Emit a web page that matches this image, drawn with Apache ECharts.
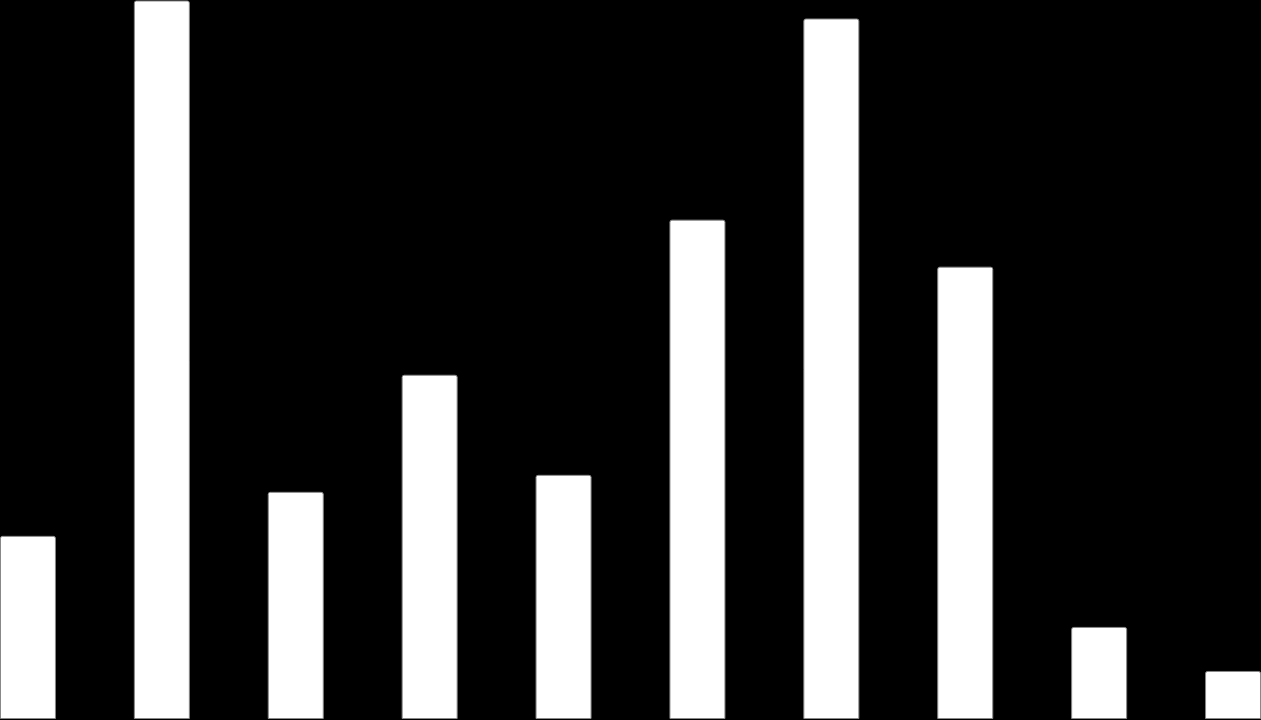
<!DOCTYPE html>
<html>
<head>
<meta charset="utf-8">
<script src="https://cdn.jsdelivr.net/npm/echarts@6/dist/echarts.min.js"></script>
<style>
    html, body { margin: 0; padding: 0; background: #000; overflow: hidden; }
    #wrap { position: relative; width: 1261px; height: 720px; overflow: hidden; }
    /* bars run right to the page edges, so the chart is a little wider than the page */
    #chart { position: absolute; left: -39px; top: 0; width: 1339px; height: 720px; }
</style>
</head>
<body>
<div id="wrap"><div id="chart"></div></div>
<script>
    // categories and bar values
    var categories = ['1', '2', '3', '4', '5', '6', '7', '8', '9', '10'];
    var values = [183, 718, 227, 344, 244, 499, 700, 452, 92, 48];
    var yMax = 718;

    var chart = echarts.init(document.getElementById('chart'));
    chart.setOption({
        backgroundColor: '#000',
        animation: false,
        grid: {
            left: 0,
            right: 0,
            top: 0.5,
            bottom: 1
        },
        xAxis: {
            type: 'category',
            data: categories,
            axisLine: { show: false },
            axisTick: { show: false },
            axisLabel: { show: false },
            splitLine: { show: false }
        },
        yAxis: {
            type: 'value',
            min: 0,
            max: yMax,
            show: false,
            splitLine: { show: false }
        },
        series: [
            {
                type: 'bar',
                data: values,
                barWidth: 56,
                itemStyle: {
                    color: '#fff',
                    borderColor: '#888',
                    borderWidth: 1,
                    borderRadius: [2, 2, 0, 0]
                }
            }
        ]
    });
</script>
</body>
</html>
